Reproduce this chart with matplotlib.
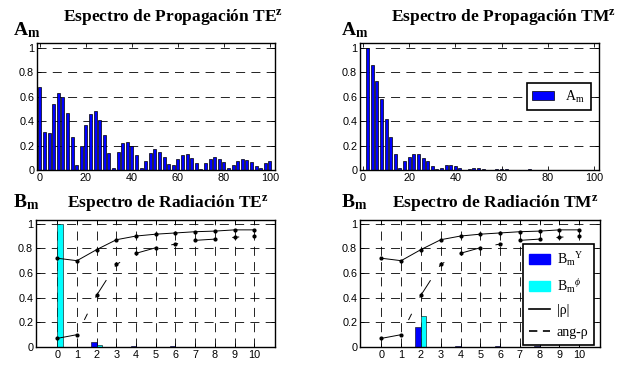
import numpy as np
import matplotlib
matplotlib.use("Agg")
import matplotlib.pyplot as plt
from matplotlib.patches import Patch
from matplotlib.lines import Line2D

plt.rcParams['font.family'] = ['Liberation Sans', 'DejaVu Sans']
plt.rcParams['mathtext.fontset'] = 'custom'
plt.rcParams['mathtext.rm'] = 'Liberation Serif'
plt.rcParams['mathtext.it'] = 'Liberation Serif:italic'
plt.rcParams['mathtext.bf'] = 'Liberation Serif:bold'
plt.rcParams['lines.scale_dashes'] = False

# --- datos ---
m_te = np.arange(0, 101, 2)
am_te = [0.68, 0.31, 0.30, 0.54, 0.63, 0.60, 0.47, 0.27, 0.04, 0.20,
         0.37, 0.46, 0.48, 0.41, 0.29, 0.14, 0.02, 0.15, 0.22, 0.23,
         0.20, 0.12, 0.02, 0.07, 0.14, 0.17, 0.15, 0.11, 0.05, 0.04,
         0.09, 0.12, 0.13, 0.10, 0.06, 0.005, 0.06, 0.09, 0.11, 0.09,
         0.065, 0.015, 0.04, 0.07, 0.09, 0.085, 0.065, 0.03, 0.02, 0.055, 0.075]

m_tm = np.arange(2, 101, 2)
am_tm = [1.00, 0.86, 0.73, 0.58, 0.42, 0.27, 0.13, 0.02, 0.07, 0.11,
         0.135, 0.13, 0.10, 0.07, 0.03, 0.005, 0.02, 0.04, 0.04, 0.035,
         0.015, 0.003, 0.008, 0.013, 0.013, 0.01, 0.003, 0.004, 0.006, 0.007,
         0.006, 0.004, 0.002, 0.003, 0.004, 0.005, 0.004, 0.003, 0.002, 0.003,
         0.004, 0.004, 0.003, 0.002, 0.003, 0.003, 0.003, 0.002, 0.002, 0.003]

n_rad = np.arange(0, 11)
bmy_te = [0.002, 0.0, 0.04, 0.0, 0.005, 0.0, 0.005, 0.0, 0.004, 0.0, 0.004]
bmphi_te = [1.00, 0.0, 0.02, 0.0, 0.002, 0.0, 0.002, 0.0, 0.001, 0.0, 0.001]
bmy_tm = [0.002, 0.0, 0.16, 0.0, 0.006, 0.0, 0.005, 0.0, 0.005, 0.0, 0.004]
bmphi_tm = [0.0, 0.0, 0.25, 0.0, 0.002, 0.0, 0.002, 0.0, 0.001, 0.0, 0.001]
rho_abs = [0.72, 0.70, 0.79, 0.87, 0.90, 0.915, 0.925, 0.935, 0.94, 0.95, 0.95]
rho_ang = [0.07, 0.10, 0.42, 0.67, 0.76, 0.805, 0.835, 0.865, 0.875, 0.89, 0.90]

yticks = [0, 0.2, 0.4, 0.6, 0.8, 1]
ylabels = ['0', '0.2', '0.4', '0.6', '0.8', '1']

W, H = 632, 365
fig = plt.figure(figsize=(W / 100, H / 100), dpi=100)
grid_ls = (0, (6.5, 4.5))
serif = 'Liberation Serif'


def new_axes(l, t, r, b):
    return fig.add_axes([l / W, 1 - b / H, (r - l) / W, (b - t) / H])


def style(ax):
    ax.tick_params(direction='in', top=True, right=True, length=3, width=0.6,
                   labelsize=7.8, pad=2)
    for s in ax.spines.values():
        s.set_linewidth(1.0)
    ax.set_yticks(yticks)
    ax.set_yticklabels(ylabels)
    ax.set_axisbelow(True)


def fig_text(px, py, s, size, ha='left'):
    fig.text(px / W, 1 - py / H, s, ha=ha, va='baseline', fontsize=size,
             family=serif, weight='bold')


# espectros de propagacion
for (l, r), m, am in [((37, 275), m_te, am_te), ((360, 599), m_tm, am_tm)]:
    ax = new_axes(l, 43, r, 170)
    ax.bar(m, am, width=1.3, color='#0000ff', edgecolor='k', linewidth=0.5,
           label=r'$\mathrm{A}_\mathrm{m}$')
    ax.set_xlim(-1.3, 102.2)
    ax.set_ylim(0, 1.04)
    ax.set_xticks([0, 20, 40, 60, 80, 100])
    ax.yaxis.grid(True, color='k', linestyle=grid_ls, linewidth=0.6)
    style(ax)
    if l > 300:
        leg = ax.legend(loc='center', bbox_to_anchor=(0.831, 0.579),
                        fancybox=False, edgecolor='k',
                        handlelength=1.6, borderpad=0.4,
                        prop={'family': serif, 'size': 10})
        leg.get_frame().set_linewidth(1.2)
        leg.get_frame().set_alpha(1)

# espectros de radiacion
w = 0.28
for (l, r), by, bp in [((36, 275), bmy_te, bmphi_te), ((360, 600), bmy_tm, bmphi_tm)]:
    ax = new_axes(l, 220, r, 347)
    ax.bar(n_rad - w / 2, by, width=w, color='#0000ff', edgecolor='k', linewidth=0.4)
    ax.bar(n_rad + w / 2, bp, width=w, color='#00ffff', edgecolor='k', linewidth=0.4)
    ax.plot(n_rad, rho_abs, color='k', linewidth=0.7, marker='.', markersize=4)
    ax.plot(n_rad, rho_ang, color='k', linewidth=0.7, marker='.', markersize=4,
            linestyle=(0, (14.8, 11.5, 5.0, 13.0)))
    ax.set_xlim(-1.08, 11.05)
    ax.set_ylim(0, 1.03)
    ax.set_xticks(n_rad)
    ax.grid(True, color='k', linestyle=grid_ls, linewidth=0.6)
    style(ax)
    if l > 300:
        handles = [Patch(color='#0000ff'), Patch(color='#00ffff'),
                   Line2D([], [], color='k', linewidth=1.2),
                   Line2D([], [], color='k', linewidth=1.2, linestyle=(0, (6, 4)))]
        labels = [r'$\mathrm{B}_\mathrm{m}{}^\mathrm{Y}$',
                  r'$\mathrm{B}_\mathrm{m}{}^\phi$', '|ρ|', 'ang-ρ']
        leg = ax.legend(handles, labels, loc='center', bbox_to_anchor=(0.827, 0.413),
                        fancybox=False, edgecolor='k', handlelength=1.5,
                        handletextpad=0.5, labelspacing=0.65, borderpad=0.4,
                        prop={'family': serif, 'size': 10})
        leg.get_frame().set_linewidth(1.2)
        leg.get_frame().set_alpha(1)

# titulos
fig_text(173, 21, r'Espectro de Propagación TE$^\mathbf{z}$', 12.5, ha='center')
fig_text(503, 21, r'Espectro de Propagación TM$^\mathbf{z}$', 12.5, ha='center')
fig_text(168, 207, r'Espectro de Radiación TE$^\mathbf{z}$', 12.5, ha='center')
fig_text(495, 207, r'Espectro de Radiación TM$^\mathbf{z}$', 12.5, ha='center')
fig_text(13, 35, r'$\mathbf{A}_\mathbf{m}$', 14)
fig_text(341, 35, r'$\mathbf{A}_\mathbf{m}$', 14)
fig_text(13, 207, r'$\mathbf{B}_\mathbf{m}$', 14)
fig_text(341, 207, r'$\mathbf{B}_\mathbf{m}$', 14)

fig.savefig('out.png', dpi=100)
